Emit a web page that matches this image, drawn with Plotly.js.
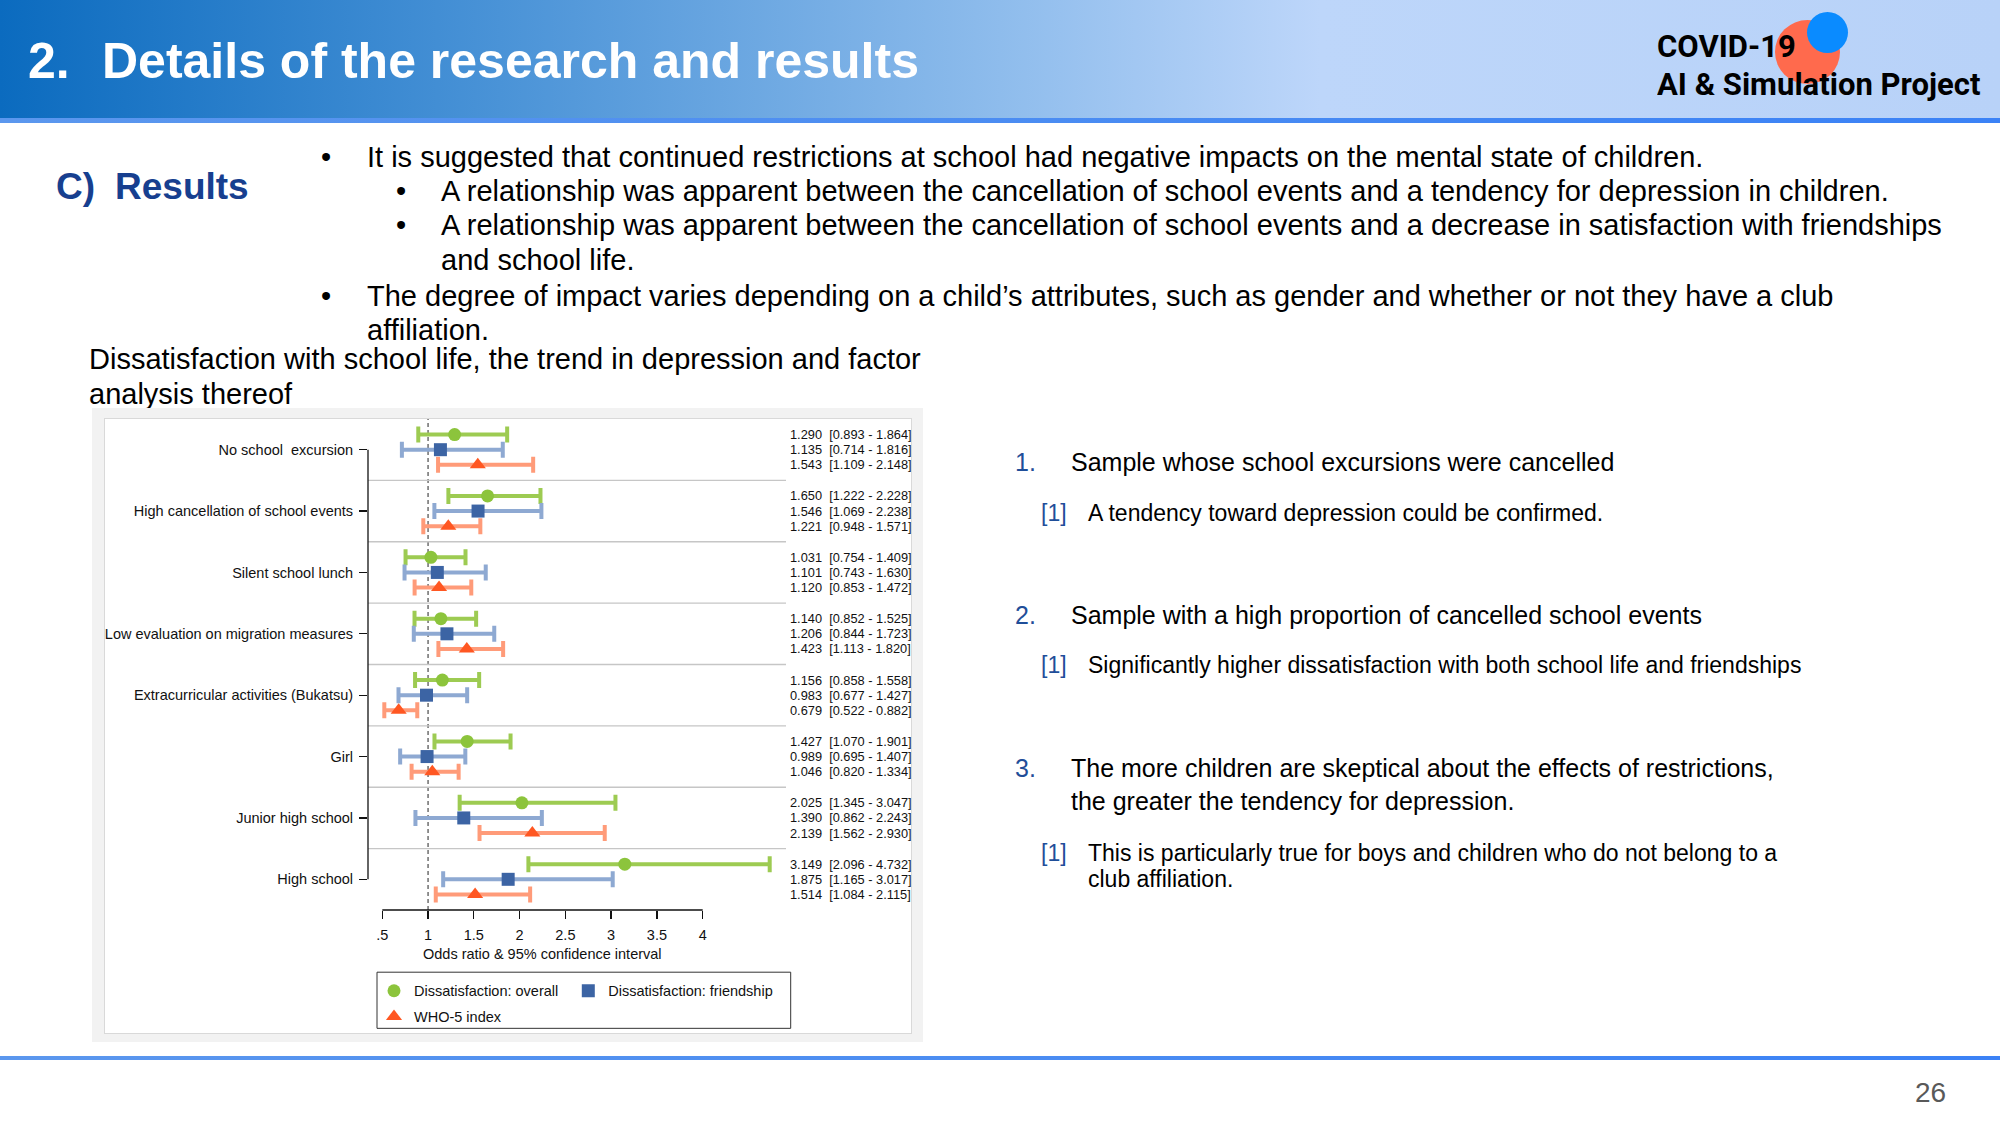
<!DOCTYPE html>
<html><head><meta charset="utf-8">
<script src="https://cdn.plot.ly/plotly-3.0.1.min.js"></script>
<style>
html,body{margin:0;padding:0;}
body{width:2000px;height:1125px;position:relative;overflow:hidden;background:#fff;font-family:'Liberation Sans',Arial,sans-serif;color:#000;}
.t{position:absolute;white-space:pre;line-height:1.2;}
.b29{font-size:29px;}
.n25{font-size:25px;}
.s23{font-size:23px;}
.num{color:#1f4e99;}
.logo{font-family:Roboto,sans-serif;font-weight:700;font-size:32px;color:#000;transform:scaleX(0.97);transform-origin:left center;}
</style></head><body>
<!-- header -->
<div style="position:absolute;left:0;top:0;width:2000px;height:118px;background:linear-gradient(to right,#0b6bbf 0%,#4a93d7 25%,#8ebcec 50%,#bdd6fa 66%,#b8d2f8 100%)"></div>
<div style="position:absolute;left:0;top:118px;width:2000px;height:5px;background:linear-gradient(to right,#5b97ee,#3b82f6)"></div>
<div class="t" style="left:28px;top:31px;font-size:50px;font-weight:bold;color:#fff">2.</div>
<div class="t" style="left:102px;top:31px;font-size:50px;font-weight:bold;color:#fff">Details of the research and results</div>
<div style="position:absolute;left:1775px;top:20px;width:65px;height:64px;border-radius:50%;background:#ff6a4d"></div>
<div style="position:absolute;left:1807px;top:12px;width:41px;height:41px;border-radius:50%;background:#0a8bff"></div>
<div class="t logo" style="left:1657px;top:27px">COVID-19</div>
<div class="t logo" style="left:1657px;top:65px">AI &amp; Simulation Project</div>

<!-- section -->
<div class="t" style="left:56px;top:165px;font-size:37px;font-weight:bold;color:#173f8f">C)</div>
<div class="t" style="left:115px;top:165px;font-size:37px;font-weight:bold;color:#173f8f">Results</div>

<div class="t b29" style="left:321px;top:139.5px">•</div>
<div class="t b29" style="left:367px;top:139.5px">It is suggested that continued restrictions at school had negative impacts on the mental state of children.</div>
<div class="t b29" style="left:396px;top:174px">•</div>
<div class="t b29" style="left:441px;top:174px">A relationship was apparent between the cancellation of school events and a tendency for depression in children.</div>
<div class="t b29" style="left:396px;top:208.4px">•</div>
<div class="t b29" style="left:441px;top:208.4px">A relationship was apparent between the cancellation of school events and a decrease in satisfaction with friendships</div>
<div class="t b29" style="left:441px;top:242.8px">and school life.</div>
<div class="t b29" style="left:321px;top:278.5px">•</div>
<div class="t b29" style="left:367px;top:278.5px">The degree of impact varies depending on a child’s attributes, such as gender and whether or not they have a club</div>
<div class="t b29" style="left:367px;top:313px">affiliation.</div>
<div class="t b29" style="left:89px;top:342.3px">Dissatisfaction with school life, the trend in depression and factor</div>
<div class="t b29" style="left:89px;top:376.7px">analysis thereof</div>

<!-- chart panel -->
<div style="position:absolute;left:92px;top:408px;width:831px;height:634px;background:#f2f2f2"></div>
<div style="position:absolute;left:104px;top:418px;width:806px;height:614px;background:#fff;border:1px solid #d9d9d9"></div>
<div id="chart" style="position:absolute;left:104px;top:418px;width:880px;height:616px"></div>

<!-- right list -->
<div class="t n25 num" style="left:1015px;top:446.7px">1.</div>
<div class="t n25" style="left:1071px;top:446.7px">Sample whose school excursions were cancelled</div>
<div class="t s23 num" style="left:1041px;top:500.2px">[1]</div>
<div class="t s23" style="left:1088px;top:500.2px">A tendency toward depression could be confirmed.</div>
<div class="t n25 num" style="left:1015px;top:599.8px">2.</div>
<div class="t n25" style="left:1071px;top:599.8px">Sample with a high proportion of cancelled school events</div>
<div class="t s23 num" style="left:1041px;top:652px">[1]</div>
<div class="t s23" style="left:1088px;top:652px">Significantly higher dissatisfaction with both school life and friendships</div>
<div class="t n25 num" style="left:1015px;top:752.9px">3.</div>
<div class="t n25" style="left:1071px;top:752.9px">The more children are skeptical about the effects of restrictions,</div>
<div class="t n25" style="left:1071px;top:786px">the greater the tendency for depression.</div>
<div class="t s23 num" style="left:1041px;top:839.5px">[1]</div>
<div class="t s23" style="left:1088px;top:839.5px">This is particularly true for boys and children who do not belong to a</div>
<div class="t s23" style="left:1088px;top:866.2px">club affiliation.</div>

<!-- footer -->
<div style="position:absolute;left:0;top:1056px;width:2000px;height:4px;background:linear-gradient(to right,#5b97ee,#3b82f6)"></div>
<div class="t" style="left:1915px;top:1076px;font-size:28px;color:#595959">26</div>

<script>
// ---- data ----
const categories = ['No school\u00a0 excursion', 'High cancellation of school events', 'Silent school lunch',
  'Low evaluation on migration measures', 'Extracurricular activities (Bukatsu)', 'Girl',
  'Junior high school', 'High school'];
const overallOR = [1.290, 1.650, 1.031, 1.140, 1.156, 1.427, 2.025, 3.149];
const overallLo = [0.893, 1.222, 0.754, 0.852, 0.858, 1.070, 1.345, 2.096];
const overallHi = [1.864, 2.228, 1.409, 1.525, 1.558, 1.901, 3.047, 4.732];
const friendOR = [1.135, 1.546, 1.101, 1.206, 0.983, 0.989, 1.390, 1.875];
const friendLo = [0.714, 1.069, 0.743, 0.844, 0.677, 0.695, 0.862, 1.165];
const friendHi = [1.816, 2.238, 1.630, 1.723, 1.427, 1.407, 2.243, 3.017];
const whoOR = [1.543, 1.221, 1.120, 1.423, 0.679, 1.046, 2.139, 1.514];
const whoLo = [1.109, 0.948, 0.853, 1.113, 0.522, 0.820, 1.562, 1.084];
const whoHi = [2.148, 1.571, 1.472, 1.820, 0.882, 1.334, 2.930, 2.115];
const seriesNames = ['Dissatisfaction: overall', 'Dissatisfaction: friendship', 'WHO-5 index'];
const xTickVals = [0.5, 1, 1.5, 2, 2.5, 3, 3.5, 4];
const xTickText = ['.5', '1', '1.5', '2', '2.5', '3', '3.5', '4'];
const xTitle = 'Odds ratio & 95% confidence interval';

// ---- styling ----
const FONT = 'Liberation Sans, Arial, sans-serif';
const FS = 14.5;
const CIFS = 12.8;
const markerColors = ['#8cc43c', '#3c64a4', '#ff5722'];
const barColors = ['#9dcb52', '#8ea9d2', '#ff9b79'];
const symbols = ['circle', 'square', 'triangle-up'];
const sizes = [13, 13, 14];
const offsets = [-0.247, 0, 0.247];
const legendIds = ['legend', 'legend2', 'legend3'];

const series = [
  {or: overallOR, lo: overallLo, hi: overallHi},
  {or: friendOR, lo: friendLo, hi: friendHi},
  {or: whoOR, lo: whoLo, hi: whoHi}
];
const idx = categories.map((c, i) => i);

const traces = series.map((s, k) => ({
  type: 'scatter', mode: 'markers', name: seriesNames[k],
  x: s.or, y: idx.map(i => i + offsets[k]),
  marker: {color: markerColors[k], size: sizes[k], symbol: symbols[k], line: {width: 0}},
  error_x: {type: 'data', symmetric: false,
    array: s.or.map((v, i) => s.hi[i] - v), arrayminus: s.or.map((v, i) => v - s.lo[i]),
    color: barColors[k], thickness: 4, width: 8},
  cliponaxis: false, hoverinfo: 'skip',
  legend: legendIds[k]
}));

// geometry (pixels within chart div)
const W = 880, H = 616, mL = 264, mR = 198, mT = 1, mB = 120;
const pw = W - mL - mR, ph = H - mT - mB;
const px2x = p => (p - mL) / pw;
const py2y = p => (mT + ph - p) / ph;
// chart div top-left is at page (104,418)
const PX = x => px2x(x - 104), PY = y => py2y(y - 418);

const shapes = [];
shapes.push({type: 'line', xref: 'paper', x0: 0, x1: 0, yref: 'y', y0: 0, y1: categories.length - 1,
  line: {color: '#111', width: 1.3}});
shapes.push({type: 'line', xref: 'x', x0: xTickVals[0], x1: xTickVals[xTickVals.length - 1], yref: 'paper', y0: 0, y1: 0,
  line: {color: '#111', width: 1.3}});
shapes.push({type: 'line', xref: 'x', x0: 1, x1: 1, yref: 'paper', y0: 0, y1: 1, layer: 'below',
  line: {color: '#6e6e6e', width: 1.5, dash: '4px,3px'}});
for (let i = 0; i < categories.length - 1; i++) {
  shapes.push({type: 'line', xref: 'paper', x0: 0, x1: 1, yref: 'y', y0: i + 0.5, y1: i + 0.5, layer: 'below',
    line: {color: '#c6c6c6', width: 1.3}});
}
// legend frame
shapes.push({type: 'rect', xref: 'paper', yref: 'paper', x0: PX(377), x1: PX(790.7), y0: PY(1033.3), y1: PY(976.7),
  line: {color: '#333', width: 1}, fillcolor: '#fff', layer: 'below'});

const annotations = [];
series.forEach((s, k) => {
  s.or.forEach((v, i) => {
    annotations.push({xref: 'paper', x: PX(788), xanchor: 'left', yref: 'y', y: i + offsets[k], yanchor: 'middle',
      text: v.toFixed(3) + '\u00a0 [' + s.lo[i].toFixed(3) + ' - ' + s.hi[i].toFixed(3) + ']',
      showarrow: false, font: {family: FONT, size: CIFS, color: '#111'}});
  });
});
annotations.push({xref: 'x', x: (xTickVals[0] + xTickVals[xTickVals.length - 1]) / 2, yref: 'paper', y: PY(958.5),
  yanchor: 'middle', xanchor: 'center', text: xTitle, showarrow: false, font: {family: FONT, size: FS, color: '#111'}});

const legendPos = [[374, 995.5], [568.3, 995.5], [374, 1021.4]];
const layout = {
  width: W, height: H, margin: {l: mL, r: mR, t: mT, b: mB, pad: 0},
  paper_bgcolor: 'rgba(0,0,0,0)', plot_bgcolor: 'rgba(0,0,0,0)',
  font: {family: FONT, size: FS, color: '#111'},
  xaxis: {range: [0.5 + (368 - 382.3) / 91.54, 0.5 + (786 - 382.3) / 91.54], showgrid: false, zeroline: false, showline: false,
    ticks: 'outside', ticklen: 8, tickwidth: 1.3, tickcolor: '#111', tickvals: xTickVals, ticktext: xTickText,
    tickfont: {family: FONT, size: FS, color: '#111'}, ticklabelstandoff: 4, fixedrange: true},
  yaxis: {range: [categories.length - 0.5, -0.5], showgrid: false, zeroline: false, showline: false,
    ticks: 'outside', ticklen: 8, tickwidth: 1.3, tickcolor: '#111', tickvals: idx, ticktext: categories,
    tickfont: {family: FONT, size: FS, color: '#111'}, ticklabelstandoff: 3, fixedrange: true},
  showlegend: true,
  shapes: shapes, annotations: annotations
};
legendIds.forEach((id, k) => {
  layout[id] = {orientation: 'h', x: PX(legendPos[k][0]), xanchor: 'left', y: PY(legendPos[k][1]), yanchor: 'middle',
    bgcolor: 'rgba(0,0,0,0)', borderwidth: 0, font: {family: FONT, size: FS, color: '#111'}};
});
Plotly.newPlot('chart', traces, layout, {displayModeBar: false, staticPlot: true});
</script>
</body></html>
